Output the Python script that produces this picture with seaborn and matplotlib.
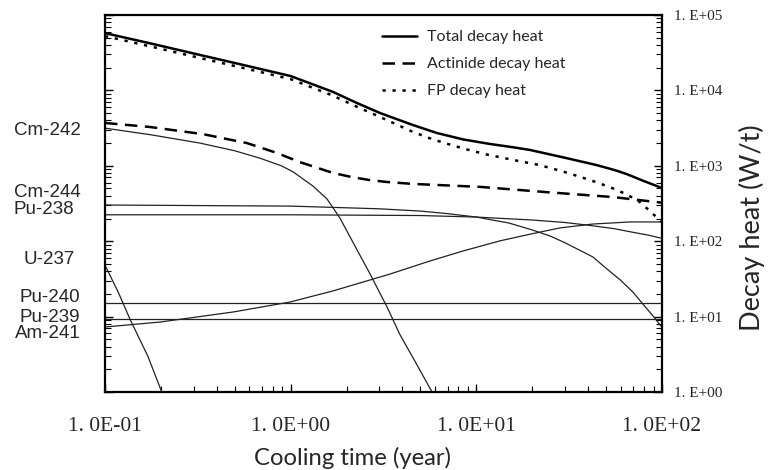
import pandas as pd
import matplotlib
matplotlib.use("Agg")
import matplotlib.pyplot as plt
from matplotlib.ticker import LogLocator, NullFormatter, FixedLocator, FixedFormatter
import seaborn as sns

# cooling time (year) / decay heat (W/t)
total_t = [0.1, 0.178, 0.325, 0.562, 1.0, 1.69, 2.24, 3.03, 4.56, 6.14, 8.47, 11.8, 15.8,
           19.5, 25.1, 30.8, 44.6, 56.2, 64.6, 79.4, 100]
total_p = [57500, 41700, 29500, 21600, 15500, 9550, 6920, 5010, 3470, 2720, 2240, 1950, 1760,
           1620, 1410, 1260, 1020, 871, 776, 631, 507]

act_t = [0.1, 0.175, 0.337, 0.582, 0.843, 1.12, 1.69, 2.14, 2.67, 3.30, 4.56, 10.5, 24.0, 54.5, 100]
act_p = [3700, 3270, 2630, 2000, 1480, 1120, 804, 708, 646, 610, 575, 525, 447, 385, 324]

fp_t = [0.1, 0.178, 0.325, 0.562, 1.0, 1.69, 2.24, 3.03, 4.56, 5.83, 8.47, 11.4, 15.7, 22.0,
        29.2, 36.1, 44.6, 54.5, 64.6, 76.0, 86.1, 100]
fp_p = [52500, 38000, 26900, 19700, 14100, 8510, 6170, 4440, 2810, 2240, 1700, 1410, 1200, 1020,
        841, 716, 603, 501, 417, 331, 251, 178]

cm242_t = [0.1, 0.178, 0.325, 0.501, 0.684, 0.891, 1.03, 1.32, 1.57, 1.84, 2.16, 2.67, 3.30,
           3.88, 4.79, 5.77, 7.08]
cm242_p = [3160, 2570, 2000, 1580, 1260, 1000, 832, 537, 363, 204, 97.7, 37.2, 13.5,
           5.75, 2.29, 1.0, 0.4]

cm244_t = [0.1, 1, 3, 5, 7, 10, 15, 20, 25, 30, 42.5, 50, 60, 70, 80, 90, 100]
cm244_p = [302, 292, 269, 251, 232, 209, 174, 141, 117, 95.5, 61.7, 43.7, 30.2, 20.9, 14.1, 10.0, 7.2]

pu238_t = [0.1, 1, 5, 10, 20, 30, 40, 55, 70, 85, 100]
pu238_p = [224, 224, 219, 209, 191, 177, 163, 147, 131, 120, 109]

u237_t = [0.1, 0.1175, 0.137, 0.17, 0.2, 0.23]
u237_p = [48, 21.4, 9.0, 3.0, 1.07, 0.4]

pu240_t = [0.1, 100]
pu240_p = [15.3, 15.3]

pu239_t = [0.1, 100]
pu239_p = [9.33, 9.33]

am241_t = [0.1, 0.198, 0.489, 0.991, 1.69, 3.43, 5.62, 8.47, 13.4, 19.5, 28.2, 42.5, 67.1, 100]
am241_p = [7.28, 8.47, 11.5, 15.6, 21.9, 36.7, 54.6, 74.1, 101, 124, 150, 169, 180, 180]

nuclides = ["Cm-242", "Cm-244", "Pu-238", "U-237", "Pu-240", "Pu-239", "Am-241"]

x_ticks = [0.1, 1, 10, 100]
x_tick_labels = ["1. 0E-01", "1. 0E+00", "1. 0E+01", "1. 0E+02"]
y_ticks = [1, 10, 100, 1000, 10000, 100000]
y_tick_labels = ["1. E+00", "1. E+01", "1. E+02", "1. E+03", "1. E+04", "1. E+05"]

sns.set_style("white")
plt.rcParams['font.family'] = ['Lato', 'DejaVu Sans']

fig = plt.figure(figsize=(7.71, 4.70), dpi=100)
ax = fig.add_axes([105 / 771, 1 - 392 / 470, 557 / 771, 377 / 470])

# nuclide curves (thin)
thin = [(cm242_t, cm242_p), (cm244_t, cm244_p), (pu238_t, pu238_p), (u237_t, u237_p),
        (pu240_t, pu240_p), (pu239_t, pu239_p), (am241_t, am241_p)]
for t, p in thin:
    df = pd.DataFrame({"t": t, "p": p})
    sns.lineplot(data=df, x="t", y="p", ax=ax, color="#222222", lw=0.9,
                 estimator=None, sort=False, zorder=2)

# totals
sns.lineplot(x=total_t, y=total_p, ax=ax, color="black", lw=1.8,
             estimator=None, sort=False, label="Total decay heat", zorder=3)
sns.lineplot(x=act_t, y=act_p, ax=ax, color="black", lw=1.8, linestyle=(0, (5, 3)),
             estimator=None, sort=False, label="Actinide decay heat", zorder=3)
sns.lineplot(x=fp_t, y=fp_p, ax=ax, color="black", lw=1.8, linestyle=(0, (1.3, 2.7)),
             estimator=None, sort=False, label="FP decay heat", zorder=3)

ax.set_xscale("log")
ax.set_yscale("log")
ax.set_xlim(0.1, 100)
ax.set_ylim(1, 1e5)

ax.xaxis.set_major_locator(FixedLocator(x_ticks))
ax.xaxis.set_major_formatter(FixedFormatter(x_tick_labels))
ax.xaxis.set_minor_locator(LogLocator(base=10, subs=range(2, 10)))
ax.xaxis.set_minor_formatter(NullFormatter())
ax.yaxis.set_major_locator(FixedLocator(y_ticks))
ax.yaxis.set_major_formatter(FixedFormatter(y_tick_labels))
ax.yaxis.set_minor_locator(LogLocator(base=10, subs=range(2, 10)))
ax.yaxis.set_minor_formatter(NullFormatter())

ax.tick_params(axis="both", which="both", direction="in", color="black",
               top=False, bottom=True, left=True, right=True,
               labelleft=False, labelright=True)
ax.tick_params(which="major", length=6, width=1)
ax.tick_params(which="minor", length=4, width=0.8)
ax.tick_params(axis="x", pad=18)
ax.tick_params(axis="y", pad=9)
for lab in ax.get_xticklabels():
    lab.set_fontfamily("Liberation Serif")
    lab.set_fontsize(15.5)
for lab in ax.get_yticklabels():
    lab.set_fontfamily("Liberation Serif")
    lab.set_fontsize(11)

for s in ax.spines.values():
    s.set_color("black")
    s.set_linewidth(1.6)

ax.set_xlabel("")
ax.set_ylabel("")
fig.text(353 / 771, 1 - 458 / 470, "Cooling time (year)", ha="center", va="center", fontsize=17.2)
fig.text(752 / 771, 1 - 228 / 470, "Decay heat (W/t)", ha="center", va="center",
         rotation=90, fontsize=19.5)

# nuclide labels on the left
label_x = [47, 47, 44, 49.5, 50, 50, 47.5]
label_y = [130.5, 192.5, 210, 259.5, 298, 317, 334]
for name, lx, ly in zip(nuclides, label_x, label_y):
    fig.text(lx / 771, 1 - ly / 470, name, ha="center", va="center",
             fontsize=13.5, family="Liberation Sans")

handles, labels = ax.get_legend_handles_labels()
ax.legend(handles, labels, loc="upper left", bbox_to_anchor=(0.497, 0.96),
          frameon=False, borderaxespad=0, borderpad=0, fontsize=11.5,
          handlelength=2.2, handletextpad=0.65, labelspacing=0.8)

fig.savefig("out.png", dpi=100)
